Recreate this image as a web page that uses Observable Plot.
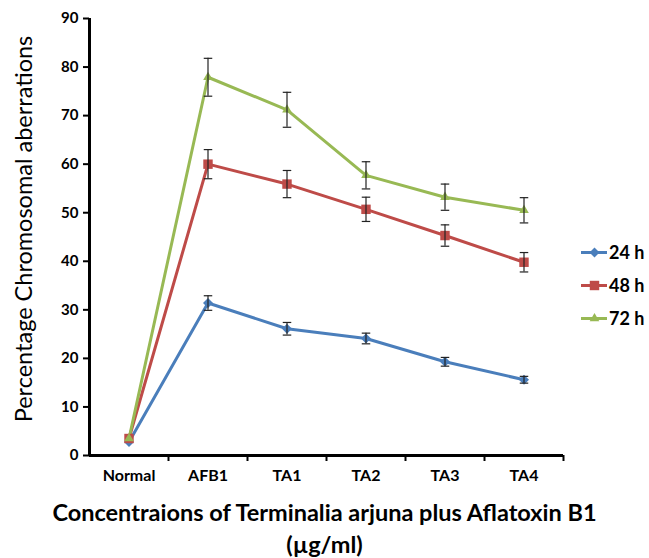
<!DOCTYPE html>
<html>
<head>
<meta charset="utf-8">
<script src="https://cdn.jsdelivr.net/npm/d3@7"></script>
<script src="https://cdn.jsdelivr.net/npm/@observablehq/plot@0.6"></script>
<style>
  html, body { margin: 0; padding: 0; background: #fff; }
  #wrap { position: relative; width: 649px; height: 558px; font-family: Lato, "Open Sans", sans-serif; overflow: hidden; }
  #chart { position: absolute; left: 0; top: 0; }
  .legend { position: absolute; left: 581px; top: 235px; }
  .legend .item { display: flex; align-items: center; height: 33px; font-weight: bold; font-size: 18px; color: #000; white-space: nowrap; }
  .xtitle { position: absolute; left: 0; width: 649px; text-align: center; font-weight: bold; font-size: 23.5px; color: #000; line-height: 30px; white-space: nowrap; }
</style>
</head>
<body>
<div id="wrap">
  <div id="chart"></div>
  <div class="legend" id="legend"></div>
  <div class="xtitle" style="top:497px">Concentraions of Terminalia arjuna plus Aflatoxin B1</div>
  <div class="xtitle" style="top:529px">(µg/ml)</div>
</div>
<script>
const categories = ["Normal", "AFB1", "TA1", "TA2", "TA3", "TA4"];
const seriesNames = ["24 h", "48 h", "72 h"];
const h24 = [2.8, 31.4, 26.1, 24.1, 19.3, 15.6];
const h24err = [0, 1.5, 1.3, 1.1, 0.9, 0.7];
const h48 = [3.5, 60.0, 55.9, 50.7, 45.3, 39.8];
const h48err = [0, 3.0, 2.8, 2.5, 2.2, 2.0];
const h72 = [3.5, 77.9, 71.2, 57.7, 53.2, 50.5];
const h72err = [0, 3.9, 3.6, 2.8, 2.7, 2.6];
const yTicks = [0, 10, 20, 30, 40, 50, 60, 70, 80, 90];
const yLabel = "Percentage Chromosomal aberrations";

const colors = ["#4A7EBB", "#BE4B48", "#98B954"];
const symbols = ["diamond2", "square2", "triangle2"];
const radii = [4.5, 6, 4.6];
const values = [h24, h48, h72];
const errs = [h24err, h48err, h72err];

const rows = [];
seriesNames.forEach((s, k) => {
  categories.forEach((c, i) => rows.push({series: s, k, i, cat: c, v: values[k][i], e: errs[k][i]}));
});

const capSymbol = {
  draw(ctx, size) {
    const w = Math.sqrt(size) * 0.6;
    ctx.moveTo(-w, 0); ctx.lineTo(w, 0);
  }
};

const idx = categories.map((_, i) => i);
const bounds = categories.map((_, i) => i + 0.5);

const marks = [
  Plot.axisY({ticks: yTicks, tickSize: 6, tickPadding: 5, fontSize: 15, fontWeight: "bold", label: null, strokeWidth: 2}),
  Plot.axisX({ticks: idx, tickSize: 0, tickPadding: 14, fontSize: 16, fontWeight: "bold", tickFormat: i => categories[i], label: null}),
  Plot.axisX({ticks: bounds, tickSize: 6, tickFormat: () => "", label: null, strokeWidth: 2}),
  Plot.ruleX([-0.5], {y1: 0, y2: 90, strokeWidth: 3, stroke: "#000"}),
  Plot.ruleY([0], {x1: -0.5, x2: 5.5, strokeWidth: 3, stroke: "#000"}),
  Plot.text([yLabel], {frameAnchor: "left", textAnchor: "middle", rotate: -90, dx: -65, dy: -8, fontSize: 23.5, fill: "#000"})
];
seriesNames.forEach((s, k) => {
  const d = rows.filter(r => r.k === k);
  marks.push(Plot.line(d, {x: "i", y: "v", stroke: colors[k], strokeWidth: 3}));
});
seriesNames.forEach((s, k) => {
  const d = rows.filter(r => r.k === k);
  const de = d.filter(r => r.e > 0);
  marks.push(Plot.dot(d, {x: "i", y: "v", symbol: symbols[k], r: radii[k], fill: colors[k], stroke: "none"}));
  marks.push(Plot.ruleX(de, {x: "i", y1: r => r.v - r.e, y2: r => r.v + r.e, stroke: "#222", strokeWidth: 1.2}));
  marks.push(Plot.dot(de, {x: "i", y: r => r.v + r.e, symbol: capSymbol, r: 4, stroke: "#222", strokeWidth: 1.2, fill: "none"}));
  marks.push(Plot.dot(de, {x: "i", y: r => r.v - r.e, symbol: capSymbol, r: 4, stroke: "#222", strokeWidth: 1.2, fill: "none"}));
});

const chart = Plot.plot({
  width: 649,
  height: 490,
  marginLeft: 89,
  marginRight: 86,
  marginTop: 18,
  marginBottom: 35,
  x: {domain: [-0.5, 5.5]},
  y: {domain: [0, 90]},
  style: {fontFamily: "Lato, 'Open Sans', sans-serif", color: "#000", background: "#fff", overflow: "visible"},
  marks
});
document.getElementById("chart").appendChild(chart);

const legend = document.getElementById("legend");
seriesNames.forEach((s, k) => {
  const item = document.createElement("div");
  item.className = "item";
  const sw = Plot.plot({
    width: 26, height: 16, margin: 0,
    x: {domain: [0, 1], axis: null}, y: {domain: [0, 1], axis: null},
    style: {overflow: "visible"},
    marks: [
      Plot.ruleY([0.5], {x1: 0, x2: 1, stroke: colors[k], strokeWidth: 3}),
      Plot.dot([0.5], {x: d => d, y: 0.5, symbol: symbols[k], r: radii[k], fill: colors[k]})
    ]
  });
  sw.style.marginRight = "2px";
  item.appendChild(sw);
  const t = document.createElement("span");
  t.textContent = s;
  item.appendChild(t);
  legend.appendChild(item);
});
</script>
</body>
</html>
